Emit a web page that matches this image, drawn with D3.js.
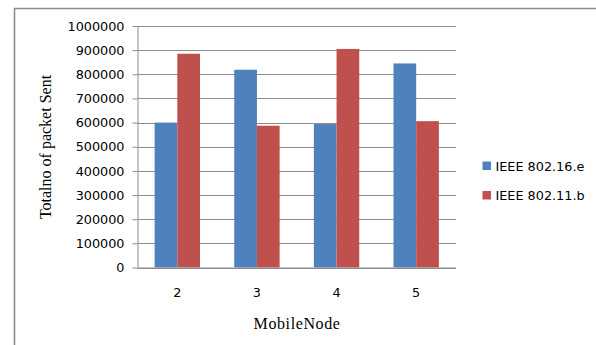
<!DOCTYPE html>
<html><head><meta charset="utf-8">
<script src="https://cdn.jsdelivr.net/npm/d3@7"></script>
<style>body{margin:0;background:#fff}svg{display:block}</style>
</head><body>
<script>
const categories = ["2", "3", "4", "5"];
const seriesNames = ["IEEE 802.16.e", "IEEE 802.11.b"];
const ieee80216e = [600000, 819000, 594000, 845000];
const ieee80211b = [885000, 587000, 905000, 606000];
const yTicks = [0,100000,200000,300000,400000,500000,600000,700000,800000,900000,1000000];
const colors = ["#4F81BD", "#C0504D"];

const W = 596, H = 345;
const svg = d3.select("body").append("svg").attr("width", W).attr("height", H);

// outer chart border
svg.append("path").attr("d", "M14.5,345 L14.5,8.5 L596,8.5")
  .attr("fill","none").attr("stroke","#8c8c8c").attr("stroke-width",1.6);

const x0 = 137.5, x1 = 456, yTop = 26, yBot = 267.5;
const x = d3.scaleBand().domain(categories).range([x0, x1]).paddingInner(0.43).paddingOuter(0.215);
const y = d3.scaleLinear().domain([0, 1000000]).range([yBot, yTop]);

// gridlines
svg.append("g").selectAll("line").data(yTicks).join("line")
  .attr("x1", x0).attr("x2", x1)
  .attr("y1", d => Math.round(y(d)) + 0.5).attr("y2", d => Math.round(y(d)) + 0.5)
  .attr("stroke", "#8c8c8c").attr("stroke-width", 1);

// y axis
const yAxis = d3.axisLeft(y).tickValues(yTicks).tickSize(5).tickPadding(8).tickFormat(d3.format("d"));
const gy = svg.append("g").attr("transform", `translate(${x0},0)`).call(yAxis);
gy.selectAll("path,line").attr("stroke", "#8c8c8c");
gy.selectAll("text").attr("font-family","DejaVu Sans").attr("font-size", 12.8).attr("fill","#000");
gy.select(".domain").attr("d", `M0.5,${yTop}V${yBot}`).attr("stroke","#8c8c8c");

// bars
const inner = d3.scaleBand().domain([0,1]).range([0, x.bandwidth()]);
const data = categories.map((c,i) => ({c, v:[ieee80216e[i], ieee80211b[i]]}));
const g = svg.append("g");
g.selectAll("g").data(data).join("g").attr("transform", d => `translate(${x(d.c)},0)`)
  .selectAll("rect").data(d => d.v.map((v,k) => ({v,k}))).join("rect")
  .attr("x", d => inner(d.k)).attr("width", inner.bandwidth())
  .attr("y", d => y(d.v)).attr("height", d => yBot - y(d.v))
  .attr("fill", d => colors[d.k]);

// x axis
const xAxis = d3.axisBottom(x).tickSize(0).tickPadding(20);
const gx = svg.append("g").attr("transform", `translate(0,${yBot})`).call(xAxis);
gx.select(".domain").attr("d", `M${x0},0.5H${x1}`).attr("stroke","#8c8c8c");
gx.selectAll("text").attr("font-family","DejaVu Sans").attr("font-size", 12.8).attr("fill","#000");

// axis titles
svg.append("text").attr("x", 297).attr("y", 328.5).attr("text-anchor","middle")
  .attr("font-family","Liberation Serif").attr("font-size",16).attr("letter-spacing",0.6)
  .text("MobileNode");
svg.append("text").attr("transform","translate(51,147) rotate(-90)").attr("text-anchor","middle")
  .attr("font-family","Liberation Serif").attr("font-size",16)
  .text("Totalno of packet Sent");

// legend
const lg = svg.append("g").selectAll("g").data(seriesNames).join("g")
  .attr("transform", (d,i) => `translate(482.5,${161.5 + i*29.5})`);
lg.append("rect").attr("width",8.5).attr("height",8.5).attr("fill",(d,i)=>colors[i]);
lg.append("text").attr("x",13).attr("y",9).attr("font-family","DejaVu Sans").attr("font-size",12.8)
  .attr("fill","#000").text(d=>d);
</script>
</body></html>
